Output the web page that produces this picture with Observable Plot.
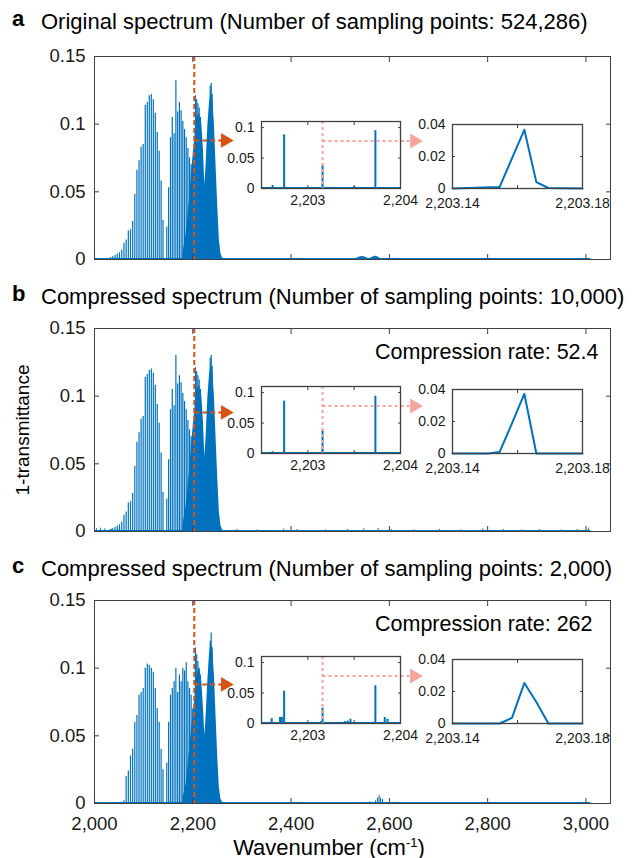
<!DOCTYPE html>
<html><head><meta charset="utf-8">
<script src="https://cdn.jsdelivr.net/npm/d3@7"></script>
<script src="https://cdn.jsdelivr.net/npm/@observablehq/plot@0.6"></script>
<style>
body{margin:0;background:#fff;}
#root{position:relative;width:634px;height:858px;font-family:Arial,"Liberation Sans",Helvetica,sans-serif;color:#000;overflow:hidden;}
.t{position:absolute;white-space:nowrap;line-height:1;}
</style></head><body><div id="root"></div>
<script>
// ---------- data ----------
const xTicks = [2000, 2200, 2400, 2600, 2800, 3000];
const yTicks = [0, 0.05, 0.1, 0.15];
const xDomain = [2000, 3050];
const specRange = [2000, 3010];
const markerWn = 2203;

// CO P- and R-branch line positions (cm-1)
const coWn = [2032.35,2037.03,2041.67,2046.28,2050.85,2055.40,2059.91,2064.40,2068.85,2073.26,2077.65,2082.00,2086.32,2090.61,2094.86,2099.08,2103.27,2107.42,2111.54,2115.63,2119.68,2123.70,2127.68,2131.63,2135.55,2139.43,
  2147.08,2150.86,2154.60,2158.30,2161.97,2165.60,2169.20,2172.76,2176.28,2179.77,2183.22,2186.64,2190.02,2193.36,2196.66,2199.93,2203.16];
const coH_a = [0.0015,0.002,0.003,0.004,0.005,0.007,0.012,0.0145,0.021,0.022,0.028,0.048,0.066,0.073,0.083,0.085,0.114,0.116,0.121,0.122,0.118,0.108,0.094,0.080,0.058,0.029,
  0.024,0.053,0.090,0.105,0.093,0.132,0.109,0.116,0.110,0.102,0.096,0.090,0.082,0.075,0.070,0.060,0.037];
const coH_b = [0.0015,0.002,0.003,0.004,0.005,0.007,0.012,0.0145,0.021,0.022,0.028,0.048,0.066,0.073,0.083,0.085,0.114,0.116,0.119,0.12,0.117,0.108,0.094,0.080,0.058,0.029,
  0.024,0.053,0.090,0.105,0.093,0.13,0.109,0.115,0.110,0.102,0.096,0.090,0.082,0.075,0.070,0.060,0.037];
const coH_c = [0,0,0,0,0,0.001,0.002,0.02,0.024,0.035,0.04,0.06,0.065,0.08,0.082,0.085,0.1,0.103,0.102,0.1,0.097,0.085,0.07,0.06,0.04,0.025,
  0.03,0.06,0.08,0.085,0.09,0.1,0.082,0.095,0.09,0.1,0.098,0.104,0.09,0.085,0.08,0.07,0.025];

// N2O band: taller individual spikes
const n2oWn = [2205.5, 2208.0, 2210.5, 2213.0, 2215.5, 2235.5, 2237.5, 2239.5];
const n2oH_a = [0.121, 0.118, 0.115, 0.112, 0.105, 0.128, 0.130, 0.122];
const n2oH_b = [0.121, 0.118, 0.115, 0.112, 0.105, 0.128, 0.130, 0.122];
const n2oH_c = [0.115, 0.11, 0.105, 0.1, 0.095, 0.12, 0.126, 0.115];

// N2O band: dense envelope
const denseWn = [2180,2186.8,2193.5,2198.9,2203.6,2208.3,2213.7,2218.4,2221.8,2224.5,2227.2,2230.5,2233.9,2237.2,2240.6,2244,2247.3,2250.7,2254,2257.4,2260.8];
const denseH_a = [0.005,0.02,0.045,0.07,0.088,0.105,0.108,0.1,0.08,0.055,0.07,0.098,0.115,0.125,0.118,0.1,0.07,0.04,0.015,0.004,0.001];
const denseH_b = [0.005,0.02,0.045,0.07,0.088,0.105,0.108,0.1,0.08,0.055,0.07,0.098,0.115,0.125,0.118,0.1,0.07,0.04,0.015,0.004,0.001];
const denseH_c = [0.004,0.015,0.04,0.06,0.075,0.095,0.1,0.09,0.07,0.05,0.065,0.09,0.11,0.12,0.112,0.095,0.065,0.035,0.012,0.003,0.001];

// weak features near 2,550-2,590
const weakWn_a = [2526, 2535, 2545, 2555, 2560, 2567, 2573, 2580, 2587];
const weakH_a  = [0, 0.0012, 0.0022, 0.0012, 0.0008, 0.0018, 0.0024, 0.0012, 0];
const weakWn_b = [2004, 2012, 2021, 2035, 2047, 2290, 2330, 2385, 2412, 2470, 2515, 2548, 2577, 2604, 2650, 2702, 2745, 2790, 2832, 2870, 2905, 2950, 2982, 3005];
const weakH_b  = [0.002, 0.0025, 0.002, 0.0018, 0.002, 0.0015, 0.0012, 0.0018, 0.0015, 0.0012, 0.0015, 0.002, 0.0022, 0.0015, 0.0012, 0.0015, 0.0012, 0.0018, 0.0015, 0.0012, 0.0015, 0.0012, 0.0015, 0.0025];
const weakWn_c = [2545, 2560, 2572, 2576, 2579, 2582, 2586];
const weakH_c  = [0.001, 0.0012, 0.002, 0.004, 0.006, 0.004, 0.003];

// inset 1 (2,202.5-2,204)
const in1Domain = [2202.5, 2204];
const in1XTicks = [2203, 2203.5];
const in1XLabels = [2203, 2204];
const in1YTicks = [0, 0.05, 0.1];
const in1Wn_a = [2202.62, 2202.744, 2203.159, 2203.5, 2203.729];
const in1H_a  = [0.005, 0.088, 0.038, 0.003, 0.095];
const in1Wn_b = [2202.62, 2202.744, 2203.159, 2203.5, 2203.729];
const in1H_b  = [0.003, 0.086, 0.037, 0.002, 0.094];
const in1Wn_c = [2202.61, 2202.70, 2202.72, 2202.744, 2203.14, 2203.159, 2203.40, 2203.43, 2203.46, 2203.729, 2203.83, 2203.86];
const in1H_c  = [0.008, 0.01, 0.01, 0.053, 0.003, 0.025, 0.003, 0.004, 0.007, 0.062, 0.01, 0.007];
const zoomWn = 2203.159;

// inset 2 (2,203.14-2,203.18)
const in2Domain = [2203.14, 2203.18];
const in2XTicks = [2203.16];
const in2XLabels = [2203.14, 2203.18];
const in2YTicks = [0, 0.02, 0.04];
const in2Wn_a = [2203.14, 2203.1545, 2203.1621, 2203.1658, 2203.1695, 2203.18];
const in2H_a  = [0, 0.001, 0.0367, 0.004, 0.0003, 0];
const in2Wn_b = [2203.14, 2203.151, 2203.1545, 2203.1583, 2203.1621, 2203.1658, 2203.18];
const in2H_b  = [0, 0, 0.001, 0.0188, 0.0373, 0, 0];
const in2Wn_c = [2203.14, 2203.1545, 2203.1583, 2203.1621, 2203.1658, 2203.1695, 2203.18];
const in2H_c  = [0, 0, 0.0035, 0.0253, 0.0134, 0, 0];

const titles = [
  "Original spectrum (Number of sampling points: 524,286)",
  "Compressed spectrum (Number of sampling points: 10,000)",
  "Compressed spectrum (Number of sampling points: 2,000)"
];
const letters = ["a", "b", "c"];
const rates = [null, "Compression rate: 52.4", "Compression rate: 262"];

// ---------- style ----------
const blue = "#0072BD", orange = "#D95319", pink = "#F4A69C", axisCol = "#404040", txtCol = "#1a1a1a";
const FONT = "Arial, 'Liberation Sans', Helvetica, sans-serif";
const root = document.getElementById("root");
const zip = (a, b) => a.map((x, i) => ({wn: x, h: b[i]}));
const fmtY = d => String(d);
const fmtX = d3.format(",");

function place(svg, left, top) {
  svg.style.position = "absolute";
  svg.style.left = left + "px";
  svg.style.top = top + "px";
  svg.style.overflow = "visible";
  svg.style.background = "transparent";
  svg.style.maxWidth = "none";
  root.appendChild(svg);
}
function text(str, left, top, size, extra = "") {
  const d = document.createElement("div");
  d.className = "t";
  d.style.left = left + "px";
  d.style.top = top + "px";
  d.style.fontSize = size + "px";
  d.style.cssText += extra;
  d.innerHTML = str;
  root.appendChild(d);
  return d;
}

// ---------- panels ----------
const frameTops = [56, 328, 600];
const frameH = 203, frameL = 94, frameR = 610;
const panelData = [
  {co: coH_a, n2o: n2oH_a, dense: denseH_a, weak: zip(weakWn_a, weakH_a), weakArea: true,
   in1: zip(in1Wn_a, in1H_a), in2: zip(in2Wn_a, in2H_a), in1Top: 121, in2Top: 124},
  {co: coH_b, n2o: n2oH_b, dense: denseH_b, weak: zip(weakWn_b, weakH_b), weakArea: false,
   in1: zip(in1Wn_b, in1H_b), in2: zip(in2Wn_b, in2H_b), in1Top: 386, in2Top: 389},
  {co: coH_c, n2o: n2oH_c, dense: denseH_c, weak: zip(weakWn_c, weakH_c), weakArea: false,
   in1: zip(in1Wn_c, in1H_c), in2: zip(in2Wn_c, in2H_c), in1Top: 656, in2Top: 659}
];

panelData.forEach((p, i) => {
  const mt = 20, mb = 40, top = frameTops[i];
  const last = i === 2;
  const marks = [
    Plot.ruleY([0.0006], {x1: specRange[0], x2: specRange[1], stroke: blue, strokeWidth: 1.4}),
    Plot.areaY(zip(denseWn, p.dense), {x: "wn", y: "h", fill: blue}),
    Plot.ruleX(zip(coWn, p.co), {x: "wn", y1: 0, y2: "h", stroke: blue, strokeWidth: 1.2}),
    Plot.ruleX(zip(n2oWn, p.n2o), {x: "wn", y1: 0, y2: "h", stroke: blue, strokeWidth: 1.2}),
    p.weakArea ? Plot.areaY(p.weak, {x: "wn", y: "h", fill: blue, curve: "natural"})
               : Plot.ruleX(p.weak, {x: "wn", y1: 0, y2: "h", stroke: blue, strokeWidth: 1}),
    Plot.ruleX([markerWn], {stroke: orange, strokeWidth: 2, strokeDasharray: "5,3"}),
    Plot.link([{x1: markerWn, x2: 2260, y: 0.088}], {x1: "x1", x2: "x2", y1: "y", y2: "y", stroke: orange, strokeWidth: 2, strokeDasharray: "5,3"}),
    Plot.dot([{x: 2266, y: 0.088}], {x: "x", y: "y", symbol: "triangle", rotate: 90, r: 5.5, fill: orange, stroke: null}),
    Plot.frame({stroke: axisCol, strokeWidth: 1}),
    Plot.axisX({ticks: xTicks, anchor: "bottom", tickSize: -5, tickFormat: () => "", stroke: axisCol, label: null}),
    Plot.axisX({ticks: xTicks, anchor: "top", tickSize: -5, tickFormat: () => "", stroke: axisCol, label: null}),
    Plot.axisY({ticks: yTicks, anchor: "left", tickSize: -5, tickFormat: () => "", stroke: axisCol, label: null}),
    Plot.axisY({ticks: yTicks, anchor: "right", tickSize: -5, tickFormat: () => "", stroke: axisCol, label: null}),
    Plot.axisY({ticks: yTicks, anchor: "left", tickSize: 0, tickPadding: 9, tickFormat: fmtY, fontSize: 18.5, fill: txtCol, label: null})
  ];
  if (last) marks.push(Plot.axisX({ticks: xTicks, anchor: "bottom", tickSize: 0, tickPadding: 13, tickFormat: fmtX, fontSize: 18.5, fill: txtCol, label: null}));
  const svg = Plot.plot({
    width: 634, height: frameH + mt + mb,
    marginLeft: frameL, marginRight: 634 - frameR, marginTop: mt, marginBottom: mb,
    x: {domain: xDomain}, y: {domain: [0, 0.15]},
    style: {fontFamily: FONT},
    marks
  });
  place(svg, 0, top - mt);

  // inset 1
  const i1w = 139, i1h = 67, i1ml = 45, i1mr = 40, i1mt = 5, i1mb = 25;
  const in1 = Plot.plot({
    width: i1w + i1ml + i1mr, height: i1h + i1mt + i1mb,
    marginLeft: i1ml, marginRight: i1mr, marginTop: i1mt, marginBottom: i1mb,
    x: {domain: in1Domain}, y: {domain: [0, 0.11]},
    style: {fontFamily: FONT},
    marks: [
      Plot.frame({fill: "white", stroke: null}),
      Plot.ruleY([0.0008], {stroke: blue, strokeWidth: 2}),
      Plot.ruleX(p.in1, {x: "wn", y1: 0, y2: "h", stroke: blue, strokeWidth: 2}),
      Plot.ruleX([zoomWn], {stroke: pink, strokeWidth: 2, strokeDasharray: "3,3"}),
      Plot.link([{x1: zoomWn, x2: 2204.1, y: 0.078}], {x1: "x1", x2: "x2", y1: "y", y2: "y", stroke: pink, strokeWidth: 2, strokeDasharray: "3,3"}),
      Plot.dot([{x: 2204.15, y: 0.078}], {x: "x", y: "y", symbol: "triangle", rotate: 90, r: 5.5, fill: pink, stroke: null}),
      Plot.frame({stroke: axisCol, strokeWidth: 1.3}),
      Plot.axisX({ticks: in1XTicks, anchor: "bottom", tickSize: -3, tickFormat: () => "", stroke: axisCol, label: null}),
      Plot.axisX({ticks: in1XTicks, anchor: "top", tickSize: -3, tickFormat: () => "", stroke: axisCol, label: null}),
      Plot.axisY({ticks: in1YTicks, anchor: "left", tickSize: -3, tickFormat: () => "", stroke: axisCol, label: null}),
      Plot.axisY({ticks: in1YTicks, anchor: "right", tickSize: -3, tickFormat: () => "", stroke: axisCol, label: null}),
      Plot.axisY({ticks: in1YTicks, anchor: "left", tickSize: 0, tickPadding: 7, tickFormat: fmtY, fontSize: 14, fill: txtCol, label: null}),
      Plot.axisX({ticks: in1XLabels, anchor: "bottom", tickSize: 0, tickPadding: 7, tickFormat: fmtX, fontSize: 14, fill: txtCol, label: null})
    ]
  });
  place(in1, 261 - i1ml, p.in1Top - i1mt);

  // inset 2
  const i2w = 130, i2h = 64, i2ml = 45, i2mr = 30, i2mt = 5, i2mb = 25;
  const in2 = Plot.plot({
    width: i2w + i2ml + i2mr, height: i2h + i2mt + i2mb,
    marginLeft: i2ml, marginRight: i2mr, marginTop: i2mt, marginBottom: i2mb,
    x: {domain: in2Domain}, y: {domain: [0, 0.04]},
    style: {fontFamily: FONT},
    marks: [
      Plot.frame({fill: "white", stroke: null}),
      Plot.line(p.in2, {x: "wn", y: "h", stroke: blue, strokeWidth: 2}),
      Plot.frame({stroke: axisCol, strokeWidth: 1.3}),
      Plot.axisX({ticks: in2XTicks, anchor: "bottom", tickSize: -3, tickFormat: () => "", stroke: axisCol, label: null}),
      Plot.axisX({ticks: in2XTicks, anchor: "top", tickSize: -3, tickFormat: () => "", stroke: axisCol, label: null}),
      Plot.axisY({ticks: [0.02], anchor: "left", tickSize: -3, tickFormat: () => "", stroke: axisCol, label: null}),
      Plot.axisY({ticks: [0.02], anchor: "right", tickSize: -3, tickFormat: () => "", stroke: axisCol, label: null}),
      Plot.axisY({ticks: in2YTicks, anchor: "left", tickSize: 0, tickPadding: 7, tickFormat: fmtY, fontSize: 14, fill: txtCol, label: null}),
      Plot.axisX({ticks: in2XLabels, anchor: "bottom", tickSize: 0, tickPadding: 10, tickFormat: fmtX, fontSize: 14, fill: txtCol, label: null})
    ]
  });
  place(in2, 452 - i2ml, p.in2Top - i2mt);
});

// ---------- texts ----------
const titleCenters = [22, 297, 569];
titles.forEach((t, i) => {
  text(letters[i], 12, titleCenters[i] - 14, 22, "font-weight:bold;");
  text(t, 41, titleCenters[i] - 11, 22);
});
text(rates[1], 375, 353 - 11, 21.5);
text(rates[2], 375, 625 - 11, 21.5);
text("1-transmittance", 22, 430, 19, "transform:translate(-50%,-50%) rotate(-90deg);");
text("Wavenumber (cm<sup style='font-size:13px;vertical-align:8px'>-1</sup>)", 329, 847, 22, "transform:translate(-50%,-50%);");
</script>
</body></html>
